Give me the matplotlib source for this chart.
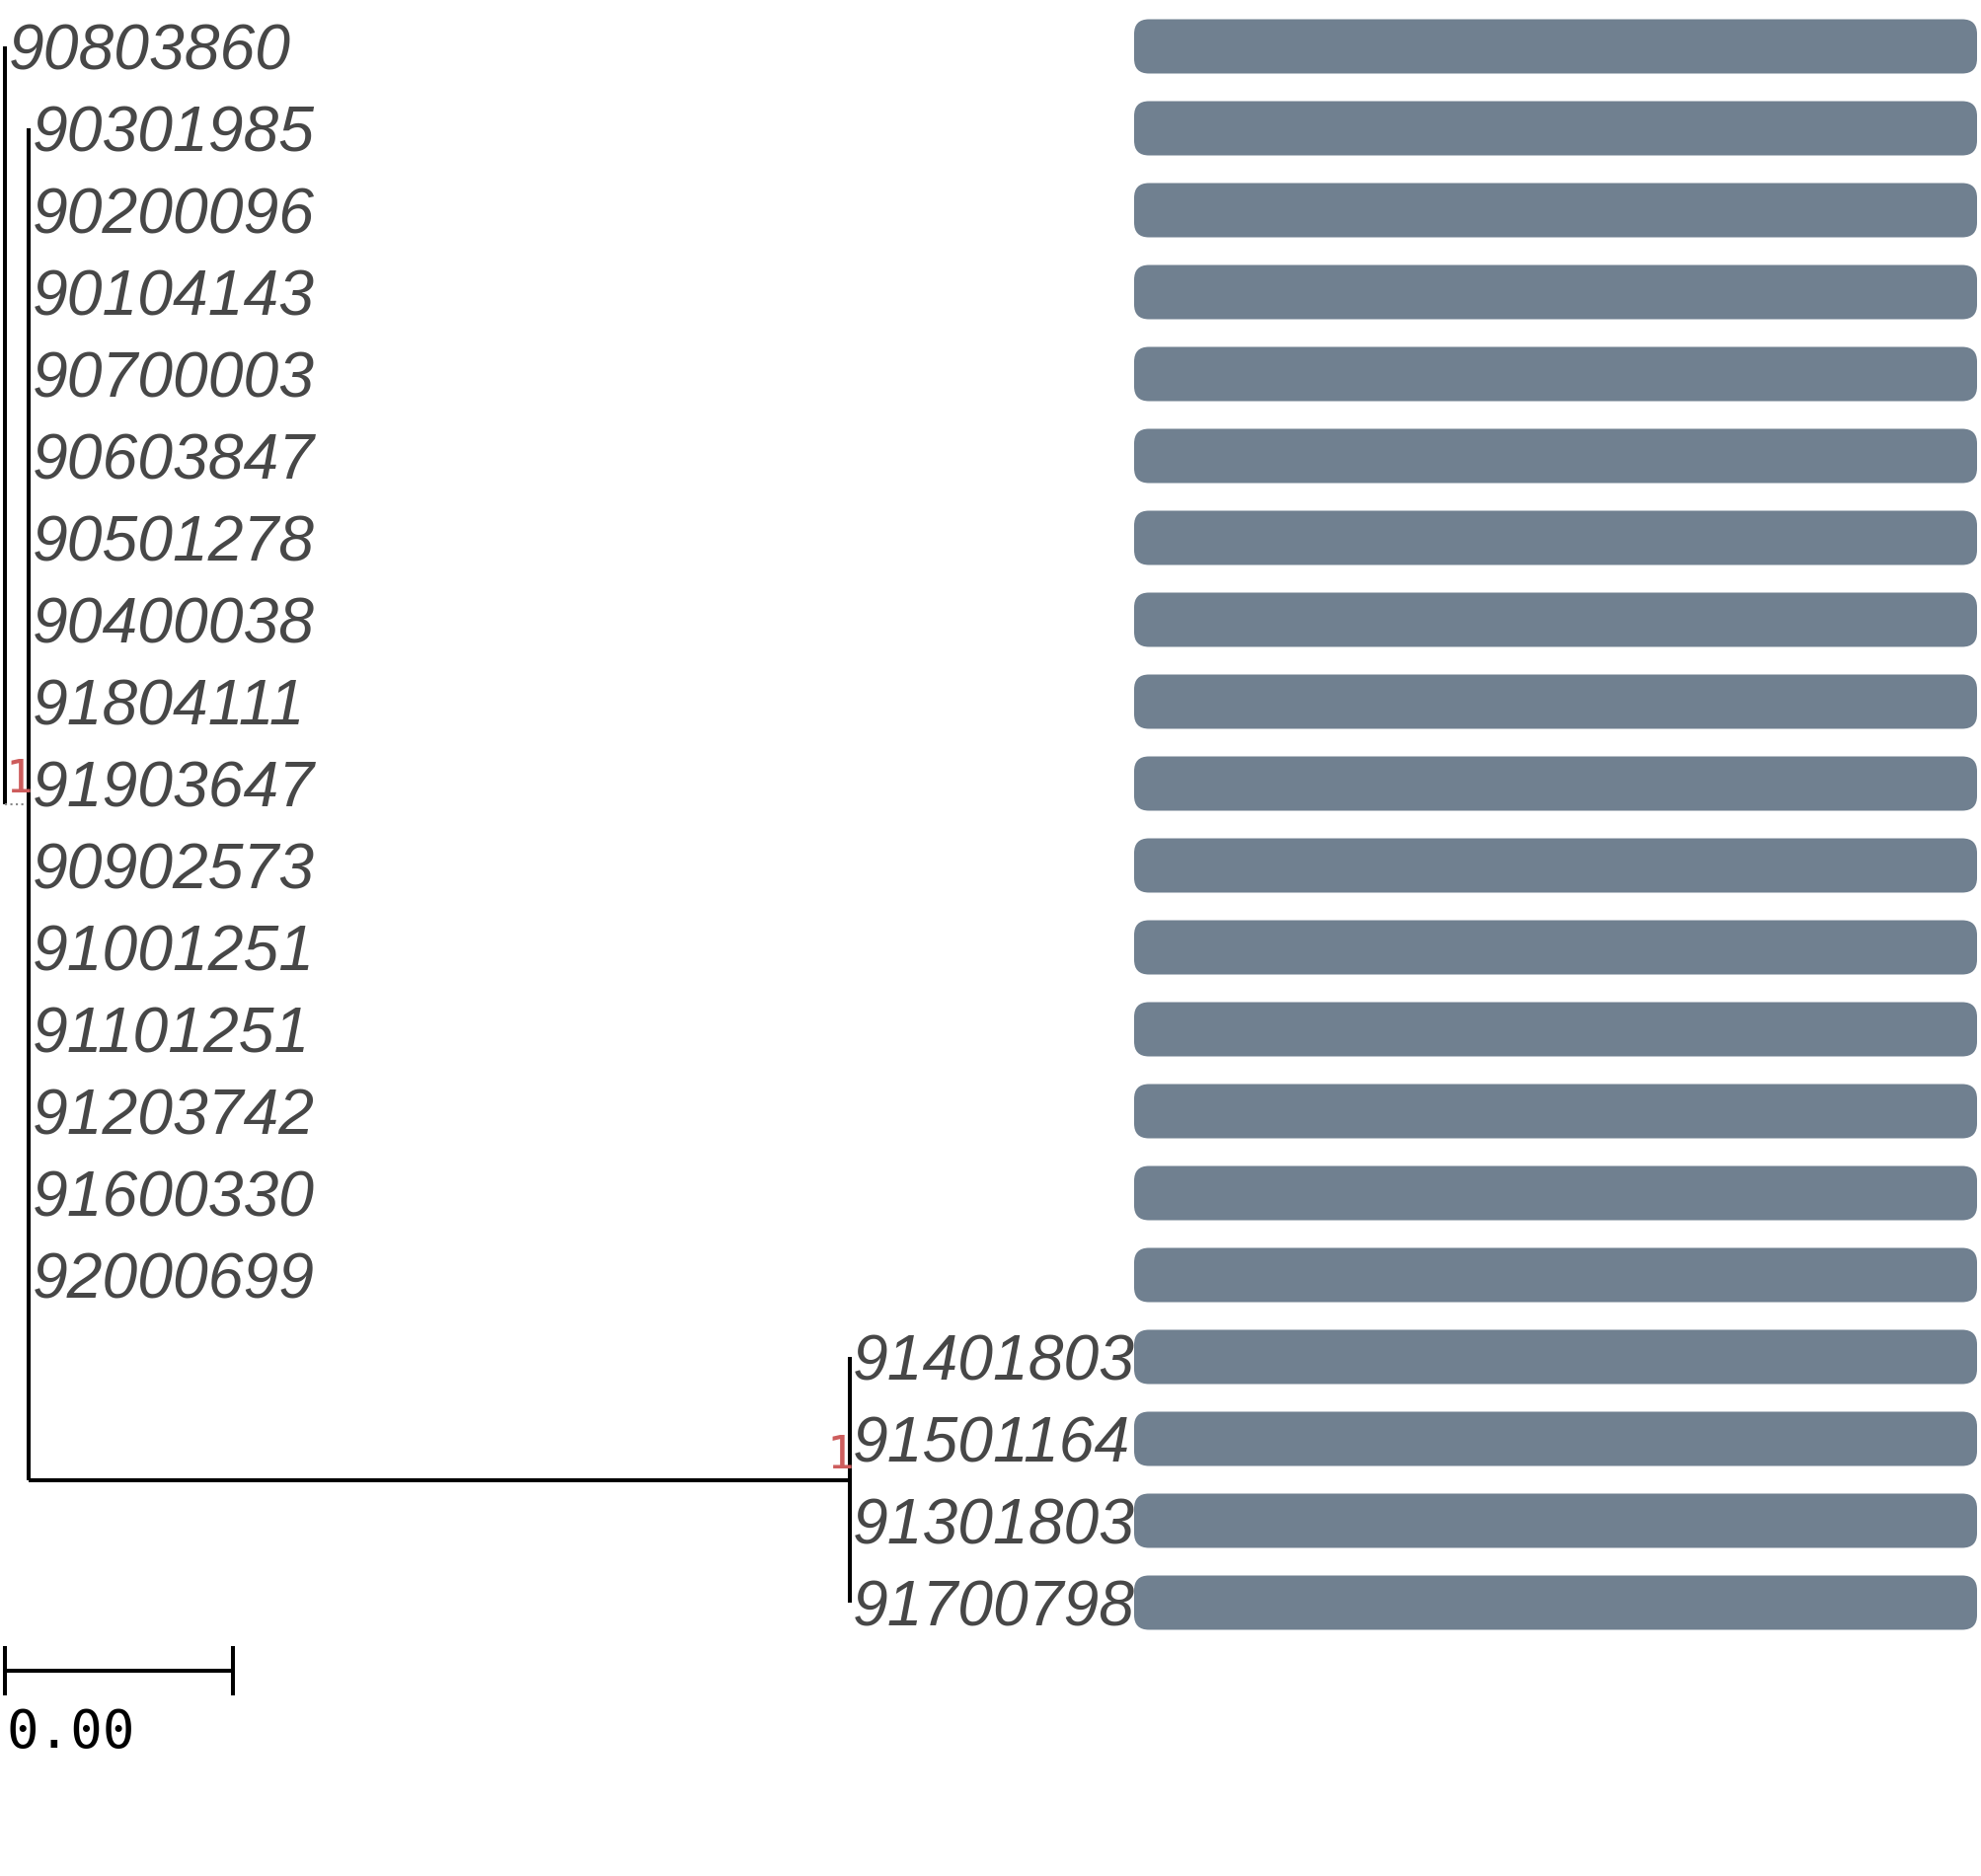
import matplotlib
matplotlib.use("Agg")
import matplotlib.pyplot as plt
from matplotlib.patches import FancyBboxPatch

# tip labels, top to bottom
outer_tip = ["90803860"]
clade_a_tips = ["90301985", "90200096", "90104143", "90700003", "90603847",
                "90501278", "90400038", "91804111", "91903647", "90902573",
                "91001251", "91101251", "91203742", "91600330", "92000699"]
clade_b_tips = ["91401803", "91501164", "91301803", "91700798"]

# branch lengths (substitutions per site)
bl_outer_tip = 0.0
bl_clade_a = 0.000104
bl_clade_b = 0.0036
bl_tips = 0.0

# bootstrap support of the internal nodes
support_a = 1
support_b = 1

# values of the bar panel (one per tip)
bar_values = [1.0] * 20

scale_len = 0.001
scale_text = "0.00"

W, H = 2007, 1901
px_per_unit = 231000.0
row_px = 83.0
top_px = 47.0

fig = plt.figure(figsize=(W / 100, H / 100), dpi=100)
ax = fig.add_axes([0, 0, 1, 1])
xmin = -5 / px_per_unit
ax.set_xlim(xmin, xmin + W / px_per_unit)
ax.set_ylim((H - top_px) / row_px, -top_px / row_px)
ax.axis("off")

# layout
tips = outer_tip + clade_a_tips + clade_b_tips
y_outer = 0
ya = list(range(1, 1 + len(clade_a_tips)))
yb = list(range(1 + len(clade_a_tips), len(tips)))
root_x = 0.0
xa = root_x + bl_clade_a
xb = xa + bl_clade_b
node_b_y = (yb[0] + yb[-1]) / 2
node_a_y = (ya[0] + node_b_y) / 2
lw = 2.9
col = "black"

# root
ax.plot([root_x, root_x], [y_outer, node_a_y], color=col, lw=lw, solid_capstyle="butt")
ax.plot([root_x, xa], [node_a_y, node_a_y], color="#888888", lw=1.5, ls=":")
# clade A
ax.plot([xa, xa], [ya[0], node_b_y], color=col, lw=lw, solid_capstyle="butt")
ax.plot([xa, xb], [node_b_y, node_b_y], color=col, lw=lw, solid_capstyle="butt")
# clade B
ax.plot([xb, xb], [yb[0], yb[-1]], color=col, lw=lw, solid_capstyle="butt")

# tip labels
off = 3.5 / px_per_unit
base = 23 / row_px
lab_kw = dict(fontsize=46.3, style="italic", family=["Liberation Sans", "DejaVu Sans"],
              color="#474747", va="baseline", ha="left")
ax.text(root_x + bl_outer_tip + off, y_outer + base, outer_tip[0], **lab_kw)
for name, y in zip(clade_a_tips, ya):
    ax.text(xa + bl_tips + off, y + base, name, **lab_kw)
for name, y in zip(clade_b_tips, yb):
    ax.text(xb + bl_tips + off, y + base, name, **lab_kw)

# support values
sup_kw = dict(fontsize=33, family="DejaVu Sans Mono", color="#CD5C5C", ha="right", va="baseline")
ax.text(xa + 4 / px_per_unit, node_a_y - 12 / row_px, str(support_a), **sup_kw)
ax.text(xb + 4 / px_per_unit, node_b_y - 12 / row_px, str(support_b), **sup_kw)

# scale bar
sy = (1693 - top_px) / row_px
tk = 25 / row_px
ax.plot([root_x, root_x + scale_len], [sy, sy], color=col, lw=lw, solid_capstyle="butt")
ax.plot([root_x, root_x], [sy - tk, sy + tk], color=col, lw=lw, solid_capstyle="butt")
ax.plot([root_x + scale_len, root_x + scale_len], [sy - tk, sy + tk], color=col, lw=lw,
        solid_capstyle="butt")
ax.text(root_x + 1 / px_per_unit, sy + (1730 - 1693) / row_px, scale_text, fontsize=39,
        family="DejaVu Sans Mono", color="black", ha="left", va="top")

# bar panel
bx0, bw = 1149, 854
bax = fig.add_axes([bx0 / W, 0, bw / W, 1])
bax.set_xlim(0, max(bar_values))
bax.set_ylim(ax.get_ylim())
bax.axis("off")
bar_h = 55 / row_px
r_px = 15
x_per_px = max(bar_values) / bw
y_per_px = 1 / row_px
for i, v in enumerate(bar_values):
    p = FancyBboxPatch((0, i - bar_h / 2), v, bar_h,
                       boxstyle=f"round,pad=0,rounding_size={r_px * x_per_px}",
                       mutation_aspect=y_per_px / x_per_px,
                       facecolor="#708090", edgecolor="none")
    bax.add_patch(p)

fig.savefig("out.png", dpi=100, facecolor="white")
